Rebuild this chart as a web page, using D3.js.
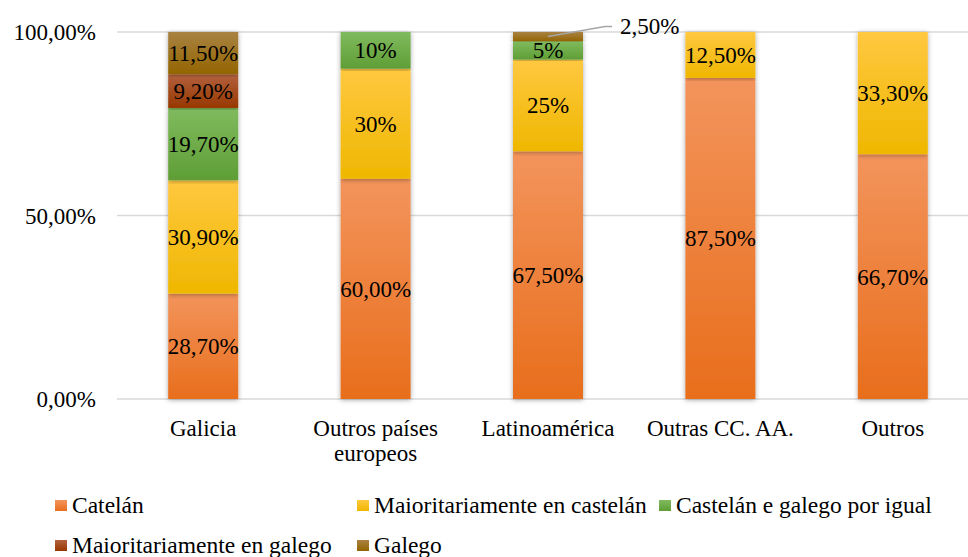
<!DOCTYPE html>
<html>
<head>
<meta charset="utf-8">
<script src="https://cdn.jsdelivr.net/npm/d3@7"></script>
<style>
  body { margin: 0; background: #fff; }
</style>
</head>
<body>
<div id="chartHolder"></div>
<script>
// categories (x axis), label lines split with "\n"
const categories = ["Galicia", "Outros países\neuropeos", "Latinoamérica", "Outras CC. AA.", "Outros"];
const seriesNames = ["Catelán", "Maioritariamente en castelán", "Castelán e galego por igual", "Maioritariamente en galego", "Galego"];
// values in percent, one array per series, same order as categories
const catelan      = [28.7, 60.0, 67.5, 87.5, 66.7];
const maiorCast    = [30.9, 30.0, 25.0, 12.5, 33.3];
const porIgual     = [19.7, 10.0, 5.0, 0, 0];
const maiorGalego  = [9.2, 0, 0, 0, 0];
const galego       = [11.5, 0, 2.5, 0, 0];
// printed labels (the chart shows them with different decimals)
const labelsCatelan     = ["28,70%", "60,00%", "67,50%", "87,50%", "66,70%"];
const labelsMaiorCast   = ["30,90%", "30%", "25%", "12,50%", "33,30%"];
const labelsPorIgual    = ["19,70%", "10%", "5%", "", ""];
const labelsMaiorGalego = ["9,20%", "", "", "", ""];
const labelsGalego      = ["11,50%", "", "2,50%", "", ""];
const yTicks = [0, 0.5, 1];
const yTickLabels = ["0,00%", "50,00%", "100,00%"];

const seriesValues = [catelan, maiorCast, porIgual, maiorGalego, galego];
const seriesLabels = [labelsCatelan, labelsMaiorCast, labelsPorIgual, labelsMaiorGalego, labelsGalego];
const colTop = ["#f3945c", "#ffc840", "#80ba5e", "#b2613e", "#a98242"];
const colBot = ["#e86e1c", "#efb700", "#5f9e36", "#973700", "#936500"];

const w = 968, h = 557;
const svg = d3.select("#chartHolder").append("svg").attr("width", w).attr("height", h)
  .attr("font-family", "'Liberation Serif', 'Times New Roman', 'DejaVu Serif', serif");

const defs = svg.append("defs");
seriesNames.forEach((s, i) => {
  const g = defs.append("linearGradient").attr("id", "grad" + i)
    .attr("x1", 0).attr("y1", 0).attr("x2", 0).attr("y2", 1);
  g.append("stop").attr("offset", "0%").attr("stop-color", colTop[i]);
  g.append("stop").attr("offset", "100%").attr("stop-color", colBot[i]);
});
const f = defs.append("filter").attr("id", "shadow").attr("x", "-20%").attr("y", "-5%").attr("width", "140%").attr("height", "110%");
f.append("feDropShadow").attr("dx", 0).attr("dy", 1).attr("stdDeviation", 2.5)
  .attr("flood-color", "#000").attr("flood-opacity", 0.35);

const x = d3.scaleBand().domain(categories).range([117, 979]).padding(0);
const barW = 70;
const y = d3.scaleLinear().domain([0, 1]).range([399, 32]);

// gridlines
svg.append("g").selectAll("line").data(yTicks).enter().append("line")
  .attr("x1", 117).attr("x2", 979)
  .attr("y1", d => y(d)).attr("y2", d => y(d))
  .attr("stroke", "#d9d9d9").attr("stroke-width", 1.5);

// y tick labels
svg.append("g").selectAll("text").data(yTicks).enter().append("text")
  .attr("x", 96).attr("y", d => y(d)).attr("dy", "0.35em")
  .attr("text-anchor", "end").style("font-size", "23px")
  .text((d, i) => yTickLabels[i]);

// stacked data
const rows = categories.map((c, ci) => {
  const o = { cat: c };
  seriesNames.forEach((s, si) => { o[s] = seriesValues[si][ci] / 100; });
  return o;
});
const stacked = d3.stack().keys(seriesNames)(rows);

const layers = svg.append("g").selectAll("g").data(stacked).enter().append("g")
  .attr("fill", (d, i) => "url(#grad" + i + ")");
layers.selectAll("rect").data(d => d).enter().append("rect")
  .filter(d => d[1] - d[0] > 0)
  .attr("x", d => x(d.data.cat) + x.bandwidth() / 2 - barW / 2)
  .attr("width", barW)
  .attr("y", d => y(d[1]))
  .attr("height", d => y(d[0]) - y(d[1]))
  .attr("filter", "url(#shadow)");

// data labels
stacked.forEach((layer, si) => {
  layer.forEach((d, ci) => {
    const lab = seriesLabels[si][ci];
    if (!lab) return;
    const cx = x(d.data.cat) + x.bandwidth() / 2;
    if (d[1] - d[0] < 0.04) {
      // small slice: label outside with leader line
      const ly = y((d[0] + d[1]) / 2);
      svg.append("polyline")
        .attr("points", [[cx, ly], [cx + 57, ly - 10], [cx + 64, ly - 10]].map(p => p.join(",")).join(" "))
        .attr("fill", "none").attr("stroke", "#a6a6a6").attr("stroke-width", 1.5);
      svg.append("text").attr("x", cx + 72).attr("y", ly - 11).attr("dy", "0.35em")
        .style("font-size", "23px").text(lab);
    } else {
      svg.append("text").attr("x", cx).attr("y", y((d[0] + d[1]) / 2)).attr("dy", "0.35em")
        .attr("text-anchor", "middle").style("font-size", "23px").text(lab);
    }
  });
});

// x labels
categories.forEach(c => {
  const t = svg.append("text").attr("text-anchor", "middle").style("font-size", "23px")
    .attr("x", x(c) + x.bandwidth() / 2).attr("y", 436);
  c.split("\n").forEach((line, li) => {
    t.append("tspan").attr("x", x(c) + x.bandwidth() / 2).attr("dy", li ? 25 : 0).text(line);
  });
});

// legend
const legendPos = [[55, 505], [357, 505], [659, 505], [55, 545], [357, 545]];
const legend = svg.selectAll(".legend").data(seriesNames).enter().append("g")
  .attr("class", "legend")
  .attr("transform", (d, i) => "translate(" + legendPos[i][0] + "," + legendPos[i][1] + ")");
legend.append("rect").attr("x", 0).attr("y", -5).attr("width", 12).attr("height", 11)
  .attr("fill", (d, i) => "url(#grad" + i + ")");
legend.append("text").attr("x", 17).attr("y", 0).attr("dy", "0.35em")
  .style("font-size", "23.5px").text(d => d);
</script>
</body>
</html>
